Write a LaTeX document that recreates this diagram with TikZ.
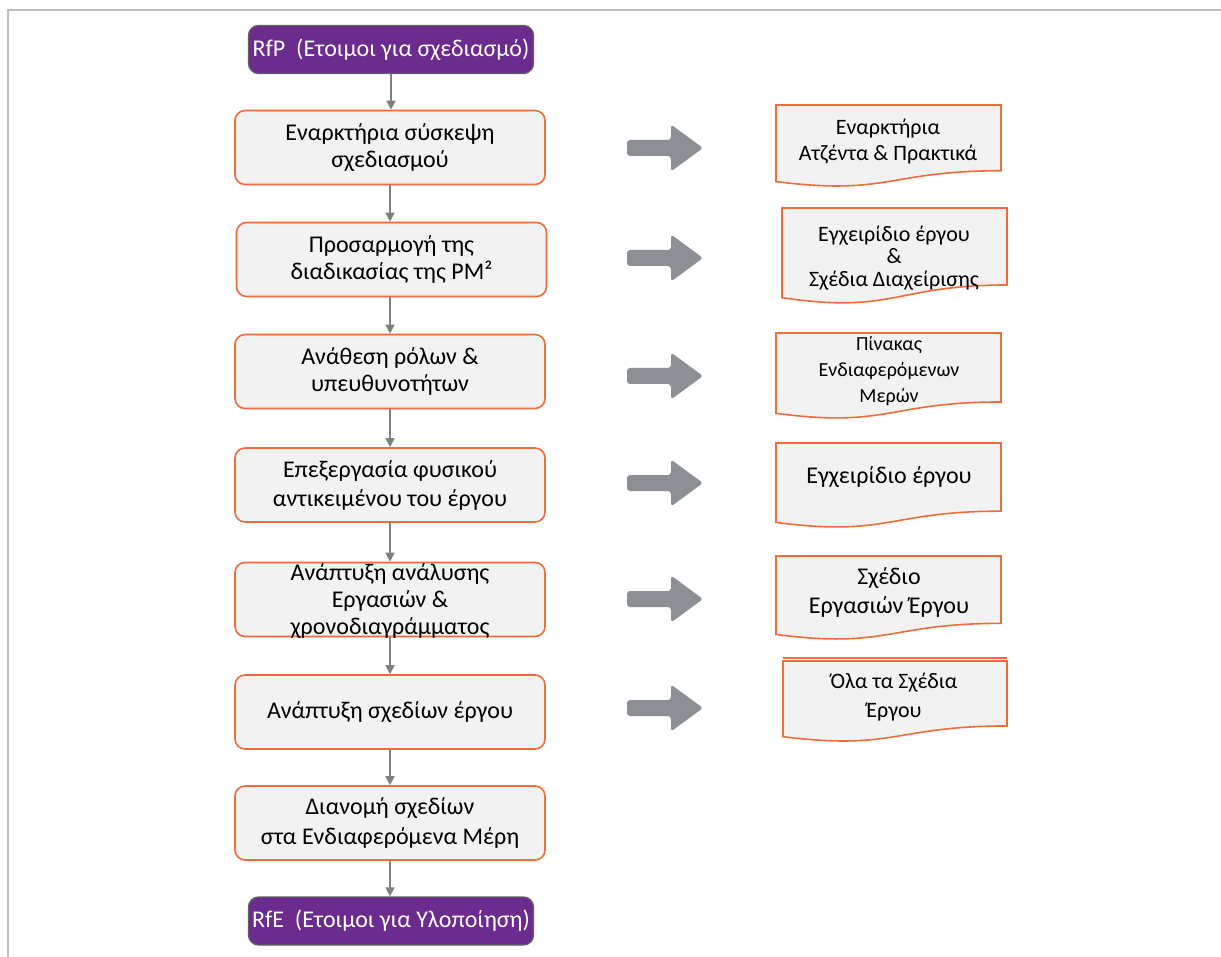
\documentclass[tikz,border=0pt]{standalone}
\usepackage{fontspec}
\setmainfont{Carlito}
\usetikzlibrary{arrows.meta}

\definecolor{rfpurple}{RGB}{107,43,143}
\definecolor{rfedge}{RGB}{96,96,96}
\definecolor{stepedge}{RGB}{242,108,58}
\definecolor{stepfill}{RGB}{242,242,242}
\definecolor{bigarrowgrey}{RGB}{140,143,147}
\definecolor{linkgrey}{RGB}{128,128,128}
\definecolor{framegrey}{RGB}{190,190,190}

% document (wavy bottom) shape: #1 left, #2 top, #3 right, #4 bottom
\newcommand{\docshape}[4]{%
  \path[docbox] (#1,#2) -- (#3,#2) -- (#3,{#2+0.802*(#4-#2)})
    .. controls ({(#1+#3)/2},{#2+0.802*(#4-#2)}) and ({(#1+#3)/2},{#2+1.108*(#4-#2)}) ..
    (#1,{#2+0.934*(#4-#2)}) -- cycle;}

% broad grey output arrow centred vertically at #1
\newcommand{\outarrow}[1]{%
  \fill[bigarrowgrey, rounded corners=3pt] (627,{#1-8}) -- (671,{#1-8}) -- (671,{#1-23.5})
    -- (703,#1) -- (671,{#1+23.5}) -- (671,{#1+8}) -- (627,{#1+8}) -- cycle;}

\begin{document}
\begin{tikzpicture}[x=1pt,y=-1pt,
  milestone/.style={rectangle, rounded corners=10pt, fill=rfpurple, draw=rfedge,
    line width=1.3pt, text=white, font=\fontsize{24}{28}\selectfont,
    minimum width=285pt, minimum height=48pt, inner sep=0pt},
  stepbox/.style={rectangle, rounded corners=10pt, fill=stepfill, draw=stepedge,
    line width=1.6pt, minimum width=310pt, minimum height=74pt, inner sep=0pt},
  steptext/.style={align=center, font=\fontsize{24}{27}\selectfont, inner sep=0pt},
  docbox/.style={fill=stepfill, draw=stepedge, line width=1.6pt},
  doctext/.style={align=center, font=\fontsize{23}{26}\selectfont, inner sep=0pt},
  link/.style={draw=linkgrey, line width=1.5pt, -{Triangle[width=9pt,length=9pt]}},
  frame/.style={draw=framegrey, line width=2pt}]

\useasboundingbox (0,0) rectangle (1221,957);
\fill[white] (0,0) rectangle (1221,957);
\draw[frame] (8,957) -- (8,10) -- (1221,10);

% process column
\node[milestone] (rfp) at (391,49.5) {RfP~~(Ετοιμοι για σχεδιασμό)};
\node[stepbox] (b1) at (390,147.5) {};
\node[stepbox] (b2) at (391.5,259.5) {};
\node[stepbox] (b3) at (390,371.5) {};
\node[stepbox] (b4) at (390,485) {};
\node[stepbox] (b5) at (390,599.5) {};
\node[stepbox] (b6) at (390,712) {};
\node[stepbox] (b7) at (390,823) {};
\node[milestone] (rfe) at (391,921) {RfE~~(Ετοιμοι για Υλοποίηση)};

\node[steptext] (t1) at (b1) {Εναρκτήρια σύσκεψη\\σχεδιασμού};
\node[steptext] (t2) at (b2) {Προσαρμογή της\\διαδικασίας της PM²};
\node[steptext] (t3) at (b3) {Ανάθεση ρόλων \&\\υπευθυνοτήτων};
\node[steptext, font=\fontsize{24}{29}\selectfont] (t4) at (b4) {Επεξεργασία φυσικού\\αντικειμένου του έργου};
\node[steptext] (t5) at (390,601) {Ανάπτυξη ανάλυσης\\Εργασιών \&\\χρονοδιαγράμματος};
\node[steptext] (t6) at (b6) {Ανάπτυξη σχεδίων έργου};
\node[steptext, font=\fontsize{24}{30}\selectfont] (t7) at (b7) {Διανομή σχεδίων\\στα Ενδιαφερόμενα Μέρη};

\draw[link] (rfp) -- (rfp |- b1.north);
\draw[link] (b1) -- (b1 |- b2.north);
\draw[link] (b2.south -| b1) -- (b1 |- b3.north);
\draw[link] (b3) -- (b4);
\draw[link] (b4) -- (b5);
\draw[link] (b5) -- (b6);
\draw[link] (b6) -- (b7);
\draw[link] (b7) -- (b7 |- rfe.north);

% output arrows
\outarrow{148}
\outarrow{258}
\outarrow{376}
\outarrow{483}
\outarrow{599}
\outarrow{708}

% output documents
\docshape{776}{105}{1001}{187}
\docshape{782}{208}{1007}{304}
\docshape{776}{333}{1001}{419}
\docshape{776}{443}{1001}{528}
\docshape{776}{556}{1001}{640}
\docshape{783}{661}{1007}{742}
\draw[docbox, fill=none] (783,658) -- (1007,658);

\node[doctext, font=\fontsize{22}{26}\selectfont] (d1) at (888,141.5) {Εναρκτήρια\\Ατζέντα \& Πρακτικά};
\node[doctext, font=\fontsize{22}{22.5}\selectfont] (d2) at (894,258) {Εγχειρίδιο έργου\\\&\\Σχέδια Διαχείρισης};
\node[doctext, font=\fontsize{20}{26}\selectfont] (d3) at (889,371) {Πίνακας\\Ενδιαφερόμενων\\Μερών};
\node[doctext, font=\fontsize{24}{26}\selectfont] (d4) at (889,477) {Εγχειρίδιο έργου};
\node[doctext, font=\fontsize{24}{29}\selectfont] (d5) at (889,592.5) {Σχέδιο\\Εργασιών Έργου};
\node[doctext, font=\fontsize{22}{29}\selectfont] (d6) at (894,697.5) {Όλα τα Σχέδια\\Έργου};

\end{tikzpicture}
\end{document}
